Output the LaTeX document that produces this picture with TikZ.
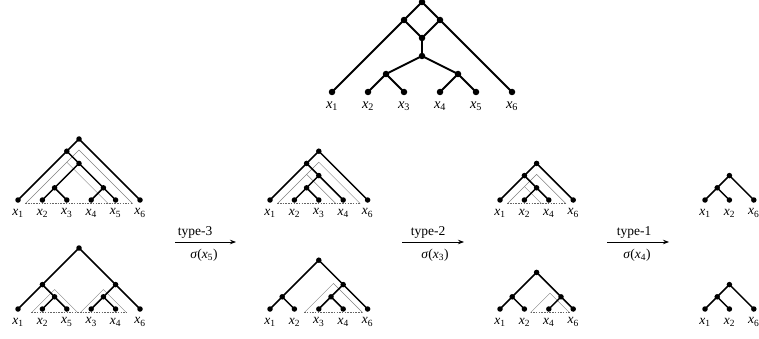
\documentclass[tikz,border=0pt]{standalone}
\usepackage{fontspec}
\setmainfont{Liberation Serif}
\usetikzlibrary{arrows.meta}
\newcommand{\xl}[1]{\textit{x}\textsubscript{#1}}
\tikzset{
  dot/.style={circle,fill=black,inner sep=0pt,minimum size=5.5pt},
  bigdot/.style={dot,minimum size=6.5pt},
  edge/.style={line width=1.5pt},
  bigedge/.style={line width=1.9pt},
  faint/.style={line width=0.45pt, black!50},
  base/.style={line width=0.5pt, black!60, dash pattern=on 1.5pt off 1.2pt},
  lab/.style={font=\fontsize{13.5}{13.5}\selectfont, inner sep=0pt, anchor=center},
  biglab/.style={font=\fontsize{14.5}{14.5}\selectfont, inner sep=0pt, anchor=center},
  arrlab/.style={font=\fontsize{13.5}{13.5}\selectfont, inner sep=0pt, anchor=center},
  arr/.style={line width=0.8pt, -{Stealth[length=6pt,width=4.5pt]}}
}
\begin{document}
\begin{tikzpicture}[x=1pt,y=-1pt]
\useasboundingbox (0,0) rectangle (759,339);

% ---------- top tree ----------
\begin{scope}[shift={(332,92)}, x=36pt, y=36pt]
  \node[bigdot] (tr) at (2.5,2.5) {};
  \node[bigdot] (tdl) at (2,2) {};
  \node[bigdot] (tdr) at (3,2) {};
  \node[bigdot] (tdb) at (2.5,1.5) {};
  \node[bigdot] (tm) at (2.5,1) {};
  \node[bigdot] (tp) at (1.5,0.5) {};
  \node[bigdot] (tq) at (3.5,0.5) {};
  \foreach \i/\n in {0/1,1/2,2/3,3/4,4/5,5/6}
    \node[bigdot] (t\n) at (\i,0) {};
  \draw[bigedge] (tr.center) -- (tdl.center) -- (tdb.center) -- (tdr.center) -- (tr.center);
  \draw[bigedge] (tdl.center) -- (t1.center);
  \draw[bigedge] (tdr.center) -- (t6.center);
  \draw[bigedge] (tdb.center) -- (tm.center);
  \draw[bigedge] (tp.center) -- (tm.center) -- (tq.center);
  \draw[bigedge] (t2.center) -- (tp.center) -- (t3.center);
  \draw[bigedge] (t4.center) -- (tq.center) -- (t5.center);
  \foreach \n in {1,...,6}
    \node[biglab] (tx\n) at ([yshift=-14pt]t\n.center) {\xl{\n}};
\end{scope}

% ---------- A1 ----------
\begin{scope}[shift={(18,200)}, x=24.4pt, y=24.4pt]
  \draw[faint] (0.3,-0.15) -- (2.5,2.05) -- (4.7,-0.15);
  \draw[faint] (2,1.55) -- (3.7,-0.15);
  \draw[base] (0.3,-0.15) -- (4.7,-0.15);
  \node[dot] (ar) at (2.5,2.5) {};
  \node[dot] (aa) at (2,2) {};
  \node[dot] (ab) at (2.5,1.5) {};
  \node[dot] (ac) at (1.5,0.5) {};
  \node[dot] (ad) at (3.5,0.5) {};
  \foreach \i/\n in {0/1,1/2,2/3,3/4,4/5,5/6}
    \node[dot] (a\n) at (\i,0) {};
  \draw[edge] (a1.center) -- (aa.center) -- (ar.center) -- (a6.center);
  \draw[edge] (aa.center) -- (ab.center);
  \draw[edge] (ac.center) -- (ab.center) -- (ad.center);
  \draw[edge] (a2.center) -- (ac.center) -- (a3.center);
  \draw[edge] (a4.center) -- (ad.center) -- (a5.center);
  \foreach \n/\s in {1/1,2/2,3/3,4/4,5/5,6/6}
    \node[lab] (ax\n) at ([yshift=-13pt]a\n.center) {\xl{\s}};
\end{scope}

% ---------- A2 ----------
\begin{scope}[shift={(18,309)}, x=24.4pt, y=24.4pt]
  \draw[faint] (0.55,-0.15) -- (1.5,0.8) -- (2.45,-0.15);
  \draw[faint] (2.55,-0.15) -- (3.5,0.8) -- (4.45,-0.15);
  \draw[base] (0.55,-0.15) -- (4.45,-0.15);
  \node[dot] (br) at (2.5,2.5) {};
  \node[dot] (ba) at (1,1) {};
  \node[dot] (bb) at (4,1) {};
  \node[dot] (bc) at (1.5,0.5) {};
  \node[dot] (bd) at (3.5,0.5) {};
  \foreach \i/\n in {0/1,1/2,2/3,3/4,4/5,5/6}
    \node[dot] (b\n) at (\i,0) {};
  \draw[edge] (b1.center) -- (ba.center) -- (br.center) -- (bb.center) -- (b6.center);
  \draw[edge] (ba.center) -- (bc.center);
  \draw[edge] (b2.center) -- (bc.center) -- (b3.center);
  \draw[edge] (bb.center) -- (bd.center);
  \draw[edge] (b4.center) -- (bd.center) -- (b5.center);
  \foreach \n/\s in {1/1,2/2,3/5,4/3,5/4,6/6}
    \node[lab] (bx\n) at ([yshift=-13pt]b\n.center) {\xl{\s}};
\end{scope}

% ---------- B1 ----------
\begin{scope}[shift={(270,200)}, x=24.4pt, y=24.4pt]
  \draw[faint] (0.3,-0.15) -- (2,1.55) -- (3.7,-0.15);
  \draw[faint] (1.5,1.05) -- (2.7,-0.15);
  \draw[base] (0.3,-0.15) -- (3.7,-0.15);
  \node[dot] (cr) at (2,2) {};
  \node[dot] (ca) at (1.5,1.5) {};
  \node[dot] (cb) at (2,1) {};
  \node[dot] (cc) at (1.5,0.5) {};
  \foreach \i/\n in {0/1,1/2,2/3,3/4,4/5}
    \node[dot] (c\n) at (\i,0) {};
  \draw[edge] (c1.center) -- (ca.center) -- (cr.center) -- (c5.center);
  \draw[edge] (ca.center) -- (cb.center) -- (c4.center);
  \draw[edge] (cb.center) -- (cc.center);
  \draw[edge] (c2.center) -- (cc.center) -- (c3.center);
  \foreach \n/\s in {1/1,2/2,3/3,4/4,5/6}
    \node[lab] (cx\n) at ([yshift=-13pt]c\n.center) {\xl{\s}};
\end{scope}

% ---------- B2 ----------
\begin{scope}[shift={(270,309)}, x=24.4pt, y=24.4pt]
  \draw[faint] (1.4,-0.15) -- (2.6,1.05) -- (3.8,-0.15);
  \draw[base] (1.4,-0.15) -- (3.8,-0.15);
  \node[dot] (dr) at (2,2) {};
  \node[dot] (da) at (0.5,0.5) {};
  \node[dot] (db) at (3,1) {};
  \node[dot] (dc) at (2.5,0.5) {};
  \foreach \i/\n in {0/1,1/2,2/3,3/4,4/5}
    \node[dot] (d\n) at (\i,0) {};
  \draw[edge] (da.center) -- (dr.center) -- (db.center) -- (d5.center);
  \draw[edge] (d1.center) -- (da.center) -- (d2.center);
  \draw[edge] (db.center) -- (dc.center);
  \draw[edge] (d3.center) -- (dc.center) -- (d4.center);
  \foreach \n/\s in {1/1,2/2,3/3,4/4,5/6}
    \node[lab] (dx\n) at ([yshift=-13pt]d\n.center) {\xl{\s}};
\end{scope}

% ---------- C1 ----------
\begin{scope}[shift={(500,200)}, x=24.4pt, y=24.4pt]
  \draw[faint] (0.3,-0.15) -- (1.5,1.05) -- (2.7,-0.15);
  \draw[faint] (1,0.55) -- (1.7,-0.15);
  \draw[base] (0.3,-0.15) -- (2.7,-0.15);
  \node[dot] (er) at (1.5,1.5) {};
  \node[dot] (ea) at (1,1) {};
  \node[dot] (eb) at (1.5,0.5) {};
  \foreach \i/\n in {0/1,1/2,2/3,3/4}
    \node[dot] (e\n) at (\i,0) {};
  \draw[edge] (e1.center) -- (ea.center) -- (er.center) -- (e4.center);
  \draw[edge] (ea.center) -- (eb.center);
  \draw[edge] (e2.center) -- (eb.center) -- (e3.center);
  \foreach \n/\s in {1/1,2/2,3/4,4/6}
    \node[lab] (ex\n) at ([yshift=-13pt]e\n.center) {\xl{\s}};
\end{scope}

% ---------- C2 ----------
\begin{scope}[shift={(500,309)}, x=24.4pt, y=24.4pt]
  \draw[faint] (1.25,-0.15) -- (2.05,0.65) -- (2.85,-0.15);
  \draw[base] (1.25,-0.15) -- (2.85,-0.15);
  \node[dot] (fr) at (1.5,1.5) {};
  \node[dot] (fa) at (0.5,0.5) {};
  \node[dot] (fb) at (2.5,0.5) {};
  \foreach \i/\n in {0/1,1/2,2/3,3/4}
    \node[dot] (f\n) at (\i,0) {};
  \draw[edge] (fa.center) -- (fr.center) -- (fb.center);
  \draw[edge] (f1.center) -- (fa.center) -- (f2.center);
  \draw[edge] (f3.center) -- (fb.center) -- (f4.center);
  \foreach \n/\s in {1/1,2/2,3/4,4/6}
    \node[lab] (fx\n) at ([yshift=-13pt]f\n.center) {\xl{\s}};
\end{scope}

% ---------- D1 ----------
\begin{scope}[shift={(705,200)}, x=24.4pt, y=24.4pt]
  \node[dot] (gr) at (1,1) {};
  \node[dot] (ga) at (0.5,0.5) {};
  \foreach \i/\n in {0/1,1/2,2/3}
    \node[dot] (g\n) at (\i,0) {};
  \draw[edge] (ga.center) -- (gr.center) -- (g3.center);
  \draw[edge] (g1.center) -- (ga.center) -- (g2.center);
  \foreach \n/\s in {1/1,2/2,3/6}
    \node[lab] (gx\n) at ([yshift=-13pt]g\n.center) {\xl{\s}};
\end{scope}

% ---------- D2 ----------
\begin{scope}[shift={(705,309)}, x=24.4pt, y=24.4pt]
  \node[dot] (hr) at (1,1) {};
  \node[dot] (ha) at (0.5,0.5) {};
  \foreach \i/\n in {0/1,1/2,2/3}
    \node[dot] (h\n) at (\i,0) {};
  \draw[edge] (ha.center) -- (hr.center) -- (h3.center);
  \draw[edge] (h1.center) -- (ha.center) -- (h2.center);
  \foreach \n/\s in {1/1,2/2,3/6}
    \node[lab] (hx\n) at ([yshift=-13pt]h\n.center) {\xl{\s}};
\end{scope}

% ---------- arrows ----------
\coordinate (p1s) at (175,242); \coordinate (p1e) at (236,242);
\coordinate (p2s) at (402,242); \coordinate (p2e) at (464,242);
\coordinate (p3s) at (607,242); \coordinate (p3e) at (669,242);
\draw[arr] (p1s) -- (p1e);
\draw[arr] (p2s) -- (p2e);
\draw[arr] (p3s) -- (p3e);
\node[arrlab] (t1l) at (195,232) {type-3};
\node[arrlab] (s1l) at (204,255) {\textit{σ}(\xl{5})};
\node[arrlab] (t2l) at (428,232) {type-2};
\node[arrlab] (s2l) at (435,255) {\textit{σ}(\xl{3})};
\node[arrlab] (t3l) at (634,232) {type-1};
\node[arrlab] (s3l) at (637,255) {\textit{σ}(\xl{4})};
\end{tikzpicture}
\end{document}
